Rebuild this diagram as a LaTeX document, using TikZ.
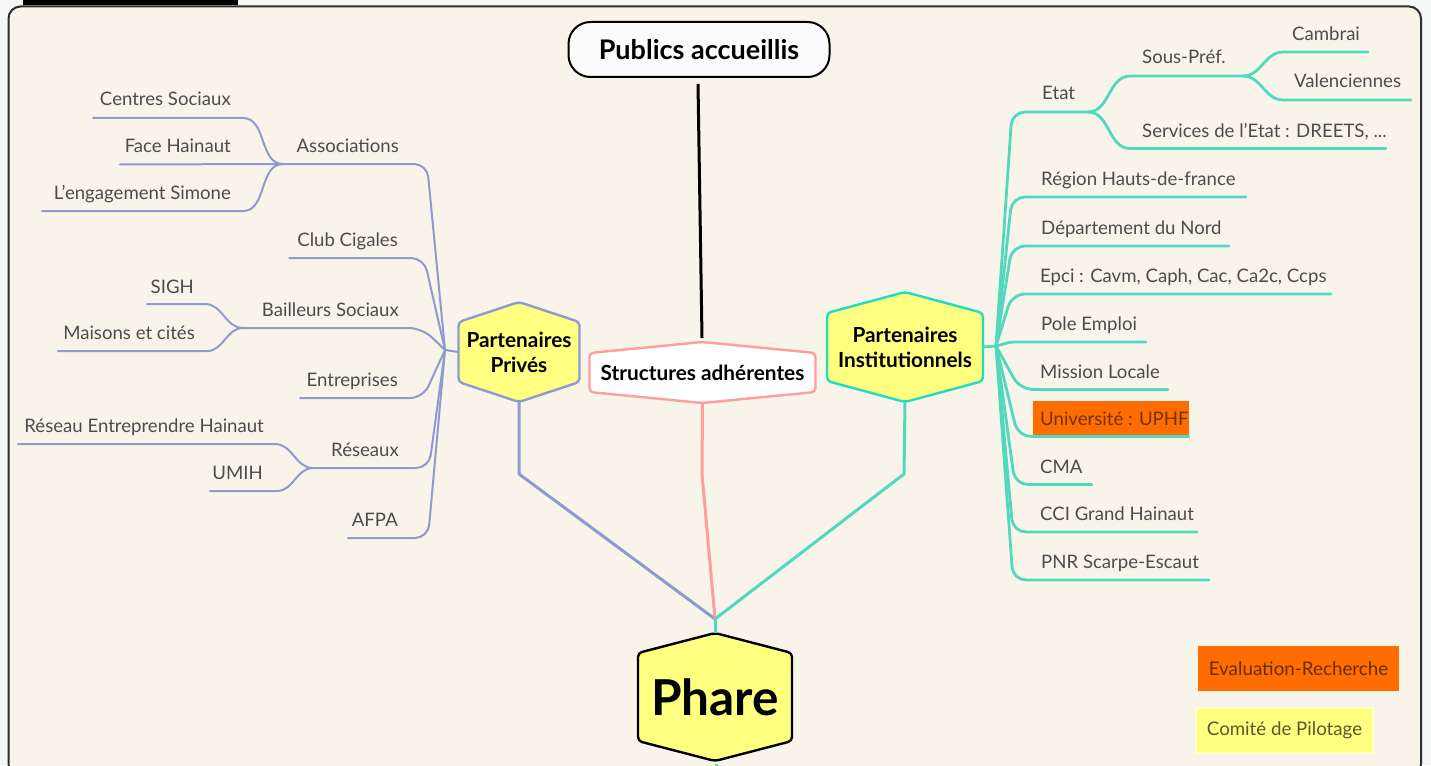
\documentclass[tikz,border=0pt]{standalone}
\usepackage{fontspec}
\setmainfont{Lato}
\definecolor{pagebg}{HTML}{F5F6F6}
\definecolor{cardbg}{HTML}{F8F4EA}
\definecolor{frame}{HTML}{2E2E2E}
\definecolor{violetl}{HTML}{8F9AD0}
\definecolor{tealc}{HTML}{52D8BE}
\definecolor{tealh}{HTML}{20DCC0}
\definecolor{pinkc}{HTML}{FF9E9E}
\definecolor{yellowf}{HTML}{FFFF80}
\definecolor{orangef}{HTML}{FF6D00}
\definecolor{txt}{HTML}{4C4C4C}
\tikzset{
  x=1pt,y=-1pt,
  labl/.style={inner sep=0pt,text=txt,font=\fontsize{18.6}{21}\selectfont,anchor=base east,yshift=-1pt},
  labr/.style={inner sep=0pt,text=txt,font=\fontsize{18.6}{21}\selectfont,anchor=base west,yshift=-1pt},
  vl/.style={draw=violetl,line width=2pt,line cap=round,line join=round},
  tl/.style={draw=tealc,line width=2.8pt,line cap=round,line join=round},
  trunk/.style={line width=3pt,line join=round},
  hexlabel/.style={inner sep=0pt,align=center,font=\bfseries\fontsize{20.8}{25}\selectfont,text=black},
  hexpath/.style={rounded corners=4pt,line join=round},
}
% #1 name, #2 cx, #3 top, #4 bottom, #5 half width, #6 side drop, #7 draw colour, #8 fill, #9 text
\newcommand{\hexnode}[9]{%
  \path[hexpath,draw=#7,fill=#8,line width=2.4pt]
    (#2,#3) -- (#2+#5,#3+#6) -- (#2+#5,#4-#6) -- (#2,#4) -- (#2-#5,#4-#6) -- (#2-#5,#3+#6) -- cycle;
  \node[hexlabel,minimum width=2*#5,minimum height=#4-#3] (#1) at (#2,{(#3+#4)/2}) {#9};
}
\begin{document}
\begin{tikzpicture}
\useasboundingbox (0,0) rectangle (1431,765);
\clip (0,0) rectangle (1431,765);
\fill[pagebg] (0,0) rectangle (1431,765);
\fill[black] (23,0) rectangle (238,5);
\draw[frame,line width=2pt,fill=cardbg,rounded corners=12pt] (8.5,6.5) rectangle (1421,776);

% central hexagons
\hexnode{prive}{519}{302}{402}{60.5}{20}{violetl}{yellowf}{Partenaires\\Privés}
\hexnode{struct}{702.5}{342}{403}{113}{11}{pinkc}{white}{Structures adhérentes}
\hexnode{inst}{905}{292}{402}{78}{21}{tealh}{yellowf}{Partenaires\\Institutionnels}
\hexnode{phare}{715}{633}{761}{77}{20}{black}{yellowf}{\fontsize{49.5}{52}\selectfont Phare}

% title
\node[draw=black,line width=2pt,fill=white!60!pagebg,rounded corners=22pt,minimum width=261pt,minimum height=55pt,inner sep=0pt,font=\bfseries\fontsize{27}{30}\selectfont,text=black] (pub) at (699,49.5) {Publics accueillis};
\coordinate (pubfoot) at (698,84);
\coordinate (structtop) at (702,338);
\draw[black,line width=3pt] (pubfoot) -- (structtop);

% trunks
\coordinate (merge) at (715,619);
\coordinate (bendp) at (519,474);
\coordinate (bends) at (702,474);
\coordinate (bendi) at (904,474);
\draw[trunk,violetl] (prive.south) -- (bendp) -- (merge);
\draw[trunk,pinkc] (struct.south) -- (bends) -- (merge);
\draw[trunk,tealc] (inst.south) -- (bendi) -- (merge);
\draw[trunk,tealc] (merge) -- (phare.north);
\coordinate (stub) at (716,770);
\draw[trunk,tealc] (716,763.5) -- (stub);

% left hub
\coordinate (hubl) at (445,350);
\draw[vl] (prive.west) -- (hubl);
\node[labl] (assoc) at (399,151) {Associations};
\node[labl] (club) at (398,245) {Club Cigales};
\node[labl] (baill) at (399,315) {Bailleurs Sociaux};
\node[labl] (entr) at (398,385) {Entreprises};
\node[labl] (res) at (399,455) {Réseaux};
\node[labl] (afpa) at (398,525) {AFPA};
\node[labl] (centres) at (231,105) {Centres Sociaux};
\node[labl] (face) at (231,151) {Face Hainaut};
\node[labl] (simone) at (231,198) {L'engagement Simone};
\node[labl] (sigh) at (194,292) {SIGH};
\node[labl] (maisons) at (195,338) {Maisons et cités};
\node[labl] (reh) at (264,431) {Réseau Entreprendre Hainaut};
\node[labl] (umih) at (263,478) {UMIH};

\foreach \n/\xc/\xe/\yy in {assoc/427/283/164, club/424/289/258, baill/422/243/328, entr/423/300/398, res/429/313/468, afpa/428/348/538}{
  \coordinate (\n-c) at (\xc,\yy);
  \coordinate (\n-e) at (\xe,\yy);
  \draw[vl,rounded corners=13pt] (hubl) -- (\n-c) -- (\n-e);
}
\foreach \n/\pn/\xk/\xe/\yy in {centres/assoc/243/93/118, simone/assoc/243/42/211, sigh/baill/205/147/304, maisons/baill/207/58/351, reh/res/275/18/444, umih/res/277/210/491}{
  \coordinate (\n-k) at (\xk,\yy);
  \coordinate (\n-e) at (\xe,\yy);
  \draw[vl] (\pn-e) to[out=180,in=0] (\n-k) -- (\n-e);
}
\coordinate (face-e) at (120,164.5);
\draw[vl] (assoc-e) -- (face-e);

% right hub
\coordinate (hubr) at (996,346);
\draw[tl] (inst.east) -- (hubr);
\node[fill=orangef,minimum width=156pt,minimum height=35.5pt,inner sep=0pt] (unibox) at (1111,418.5) {};
\node[labr] (etat) at (1042,99) {Etat};
\node[labr] (region) at (1041,184) {Région Hauts-de-france};
\node[labr] (dept) at (1041,233) {Département du Nord};
\node[labr] (epci) at (1040,281.5) {Epci : Cavm, Caph, Cac, Ca2c, Ccps};
\node[labr] (pole) at (1041,329) {Pole Emploi};
\node[labr] (mission) at (1040,377) {Mission Locale};
\node[labr,text=orangef!45!black] (uni) at (1040,424) {Université : UPHF};
\node[labr] (cma) at (1040,472) {CMA};
\node[labr] (cci) at (1040,519.5) {CCI Grand Hainaut};
\node[labr] (pnr) at (1041,567.5) {PNR Scarpe-Escaut};
\node[labr] (sous) at (1142,63) {Sous-Préf.};
\node[labr] (serv) at (1142,136) {Services de l'Etat : DREETS, ...};
\node[labr] (camb) at (1292,39.5) {Cambrai};
\node[labr] (val) at (1294,87) {Valenciennes};

\foreach \n/\xc/\xe/\yy in {etat/1012/1088/112, region/1012/1246/197, dept/1012/1229/246, epci/1012/1331/294, mission/1020/1168/389.5, uni/1018/1189/436.5, cma/1015/1092/484.5, cci/1013/1197/532, pnr/1013/1209/580}{
  \coordinate (\n-c) at (\xc,\yy);
  \coordinate (\n-e) at (\xe,\yy);
  \draw[tl,rounded corners=13pt] (hubr) -- (\n-c) -- (\n-e);
}
\coordinate (pole-c) at (1014,342);
\coordinate (pole-e) at (1146,342);
\draw[tl] (hubr) to[out=10,in=180] (pole-c) -- (pole-e);
\foreach \n/\pn/\xk/\xe/\yy in {sous/etat/1130/1243/76, serv/etat/1130/1386/148.5, camb/sous/1283/1368/52, val/sous/1283/1411/100}{
  \coordinate (\n-k) at (\xk,\yy);
  \coordinate (\n-e) at (\xe,\yy);
  \draw[tl] (\pn-e) to[out=0,in=180] (\n-k) -- (\n-e);
}

% legend
\node[fill=orangef,minimum width=201pt,minimum height=45pt,inner sep=0pt,text=orangef!40!black,font=\fontsize{18.8}{21}\selectfont] (eval) at (1298.5,668.5) {Evaluation-Recherche};
\node[draw=white!55!yellowf,line width=2pt,fill=yellowf,minimum width=177pt,minimum height=45pt,inner sep=0pt,text=yellowf!35!black,font=\fontsize{18.7}{21}\selectfont] (comite) at (1284.5,730.5) {Comité de Pilotage};
\end{tikzpicture}
\end{document}
